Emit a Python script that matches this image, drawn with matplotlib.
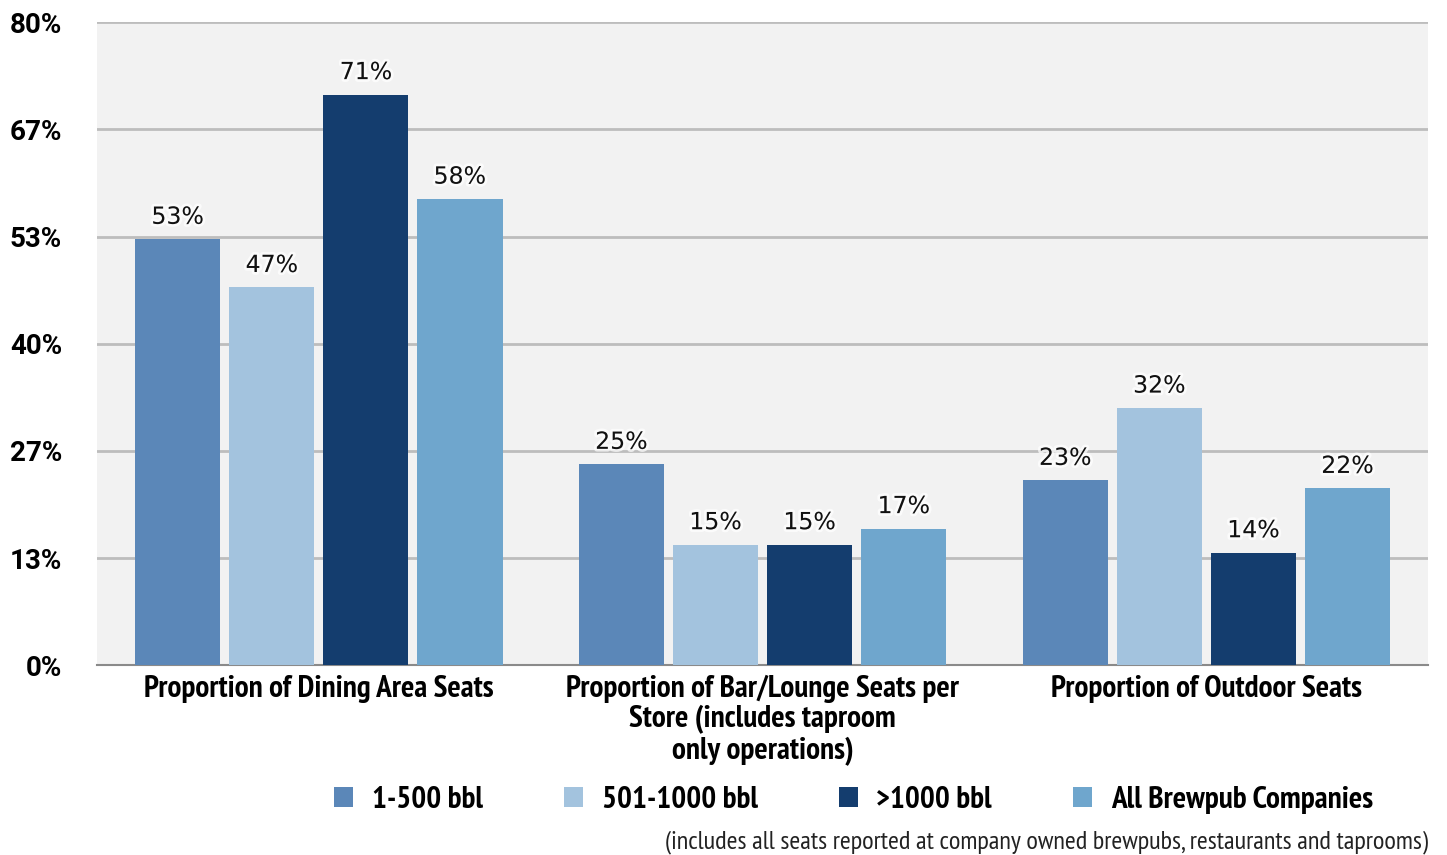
import numpy as np
import matplotlib
matplotlib.use("Agg")
import matplotlib.pyplot as plt
import matplotlib.patheffects as pe
from matplotlib.patches import Patch
from matplotlib import font_manager as fm

# seat share by brewery size
categories = ["Proportion of Dining Area Seats",
              "Proportion of Bar/Lounge Seats per\nStore (includes taproom\nonly operations)",
              "Proportion of Outdoor Seats"]
series_names = ["1-500 bbl", "501-1000 bbl", ">1000 bbl", "All Brewpub Companies"]
small = [53, 25, 23]
mid = [47, 15, 32]
large = [71, 15, 14]
all_cos = [58, 17, 22]
yticks = [0, 80 / 6, 160 / 6, 40, 320 / 6, 400 / 6, 80]
ytick_labels = ["0%", "13%", "27%", "40%", "53%", "67%", "80%"]
note = "(includes all seats reported at company owned brewpubs, restaurants and taprooms)"

colors = ["#5b87b8", "#a3c3de", "#143d6e", "#6fa6cd"]


def narrow_font(style, size):
    # pick the Liberation Sans Narrow file directly
    for f in fm.fontManager.ttflist:
        name = f.fname.replace(" ", "")
        if "Narrow" in name and name.endswith(f"-{style}.ttf"):
            return fm.FontProperties(fname=f.fname, size=size)
    w = "bold" if style == "Bold" else "normal"
    return fm.FontProperties(family="Liberation Sans", stretch="condensed", weight=w, size=size)


cat_font = narrow_font("Bold", 22.5)
leg_font = narrow_font("Bold", 22.5)
note_font = narrow_font("Regular", 19)
tick_font = fm.FontProperties(family="Roboto", weight="bold", size=20)

fig = plt.figure(figsize=(14.47, 8.55), dpi=100)
ax = fig.add_axes([0.067, 0.222, 0.92, 0.752])
ax.set_facecolor("#f2f2f2")

x = np.arange(len(categories))
width = 0.192
step = 0.212
for i, vals in enumerate([small, mid, large, all_cos]):
    pos = x + (i - 1.5) * step
    ax.bar(pos, vals, width, color=colors[i], zorder=3)
    for px, v in zip(pos, vals):
        ax.text(px, v + 1.3, f"{v}%", ha="center", va="bottom", fontsize=17,
                color="#111111", zorder=4,
                path_effects=[pe.withStroke(linewidth=4, foreground="white", alpha=0.7)])

ax.set_xlim(-0.5, 2.5)
ax.set_ylim(0, 80)
ax.set_yticks(yticks)
ax.set_yticklabels(ytick_labels, fontproperties=tick_font)
ax.yaxis.grid(True, color="#bdbdbd", linewidth=2, zorder=1)
ax.tick_params(axis="y", length=0, pad=25)
ax.tick_params(axis="x", length=0, pad=7)
ax.set_xticks(x)
ax.set_xticklabels(categories, fontproperties=cat_font, linespacing=1.1)
for s in ["top", "right", "left"]:
    ax.spines[s].set_visible(False)
ax.spines["bottom"].set_color("#8a8a8a")
ax.spines["bottom"].set_linewidth(1.5)

handles = [Patch(facecolor=c) for c in colors]
fig.legend(handles, series_names, loc="center", bbox_to_anchor=(0.590, 0.064),
           ncol=4, frameon=False, handlelength=0.6, handleheight=0.6,
           columnspacing=2.6, handletextpad=0.6, prop=leg_font)

fig.text(0.987, 0.0152, note, ha="right", va="center", fontproperties=note_font,
         color="#222222")

fig.savefig("out.png", dpi=100)
